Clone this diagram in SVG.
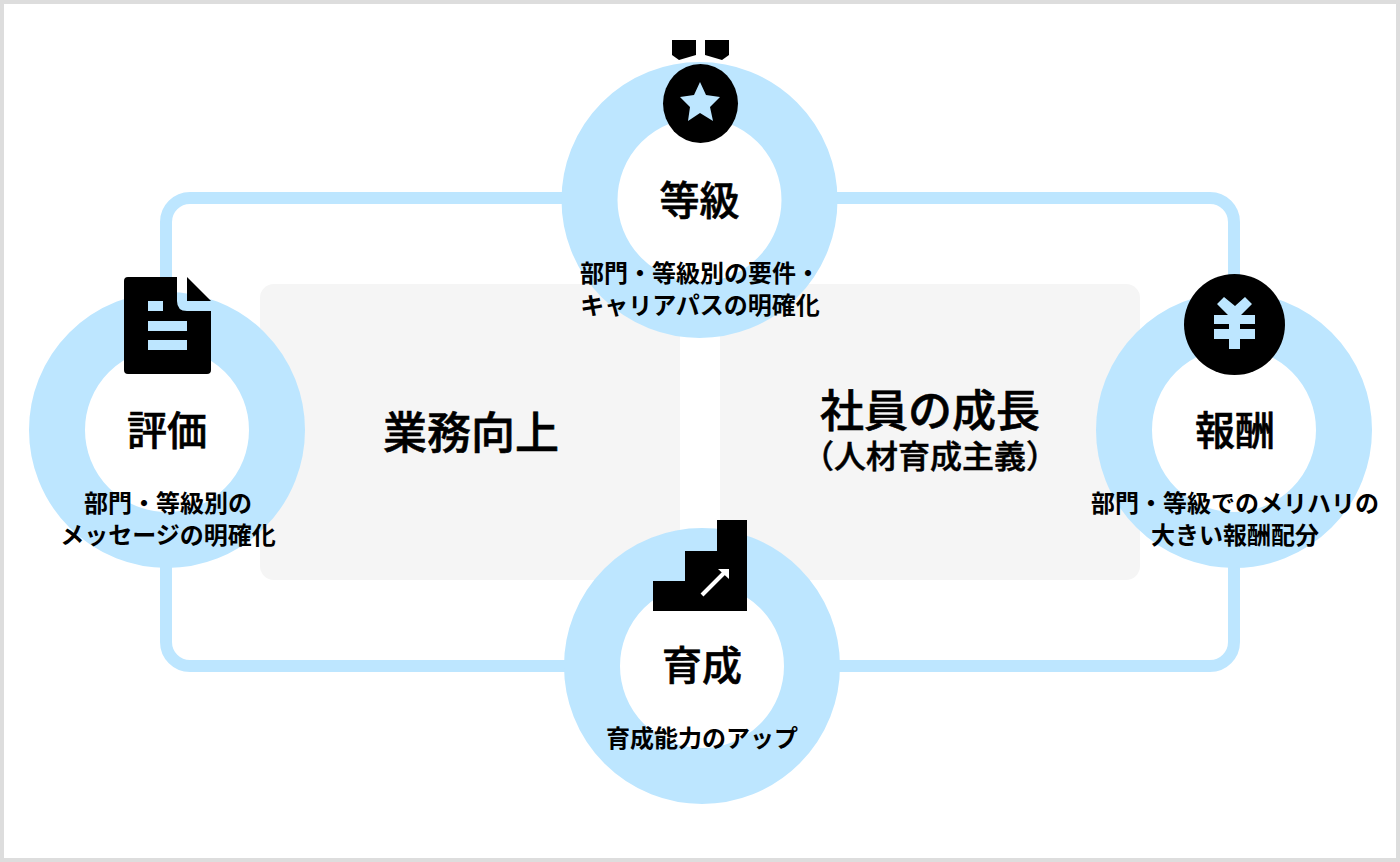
<svg xmlns="http://www.w3.org/2000/svg" width="1400" height="862" viewBox="0 0 1400 862">
<style>
.ring{fill:none;stroke:#bde6ff;stroke-width:56}
.ink{fill:#000}
.cut{fill:#bde6ff}
.panel{fill:#f5f5f5}
text{font-family:"Noto Sans CJK JP","Noto Sans",sans-serif;font-weight:700;fill:#000;text-anchor:middle}
.title{font-size:40px;font-weight:500;stroke:#000;stroke-width:.6px}
.sub{font-size:24px;font-weight:700}
.big{font-size:44px;font-weight:500;stroke:#000;stroke-width:.6px}
.paren{font-size:32px;font-weight:500;stroke:#000;stroke-width:.5px}
</style>
<rect x="2" y="2" width="1396" height="858" fill="#fff" stroke="#ddd" stroke-width="4"/>
<g id="panels">
<rect class="panel" x="260" y="284" width="440" height="296" rx="14"/>
<rect class="panel" x="700" y="284" width="440" height="296" rx="14"/>
<rect x="680" y="284" width="40" height="296" fill="#fff"/>
</g>
<g id="connectors">
<rect x="166" y="198" width="1068" height="468" rx="24" fill="none" stroke="#bde6ff" stroke-width="12"/>
</g>
<g id="center-left"><text class="big" x="471" y="449">業務向上</text></g>
<g id="center-right">
<text class="big" x="930" y="427">社員の成長</text>
<text class="paren" x="930" y="468">（人材育成主義）</text>
</g>
<g id="node-grade">
<circle cx="699.5" cy="200" r="110" fill="#fff"/>
<circle class="ring" cx="699.5" cy="200" r="110"/>
<polygon class="ink" points="672,40 696,40 696,55 679,60 672,55"/>
<polygon class="ink" points="705,40 729,40 729,55 722,60 705,55"/>
<ellipse class="ink" cx="700.5" cy="103.5" rx="37.5" ry="39.5"/>
<polygon class="cut" points="700,82 706,95 720,97 710,107 713,121 700,113 688,121 690,107 680,97 694,95"/>
<text class="title" x="699.5" y="215">等級</text>
<text class="sub" x="700" y="282">部門・等級別の要件・</text>
<text class="sub" x="700" y="314">キャリアパスの明確化</text>
</g>
<g id="node-eval">
<circle cx="167" cy="430" r="110" fill="#fff"/>
<circle class="ring" cx="167" cy="430" r="110"/>
<path class="ink" d="M128 277H177V301Q177 311 187 311H211V370Q211 374 207 374H128Q124 374 124 370V281Q124 277 128 277Z"/>
<polygon class="ink" points="187,277 211,301 187,301"/>
<rect class="cut" x="148" y="301" width="15" height="10"/>
<rect class="cut" x="148" y="321" width="39" height="10"/>
<rect class="cut" x="148" y="340" width="39" height="10"/>
<text class="title" x="167" y="445">評価</text>
<text class="sub" x="168" y="512">部門・等級別の</text>
<text class="sub" x="168" y="544">メッセージの明確化</text>
</g>
<g id="node-reward">
<circle cx="1234" cy="430" r="110" fill="#fff"/>
<circle class="ring" cx="1234" cy="430" r="110"/>
<circle class="ink" cx="1234.5" cy="324.5" r="50.5"/>
<path class="cut" d="M1217 304 1224 297 1235 306 1245 297 1252 304 1241 315H1255V324H1240V329H1255V339H1240V349H1229V339H1214V329H1229V324H1214V315H1228Z"/>
<text class="title" x="1235" y="445">報酬</text>
<text class="sub" x="1235" y="512">部門・等級でのメリハリの</text>
<text class="sub" x="1235" y="544">大きい報酬配分</text>
</g>
<g id="node-training">
<circle cx="702" cy="666" r="110" fill="#fff"/>
<circle class="ring" cx="702" cy="666" r="110"/>
<polygon class="ink" points="717,520 747,520 747,611 653,611 653,581 685,581 685,551 717,551"/>
<path d="M702 595 726 571" fill="none" stroke="#fff" stroke-width="4"/>
<polygon points="718,569 729,569 729,579" fill="#fff"/>
<text class="title" x="702" y="680">育成</text>
<text class="sub" x="702" y="747">育成能力のアップ</text>
</g>
</svg>
